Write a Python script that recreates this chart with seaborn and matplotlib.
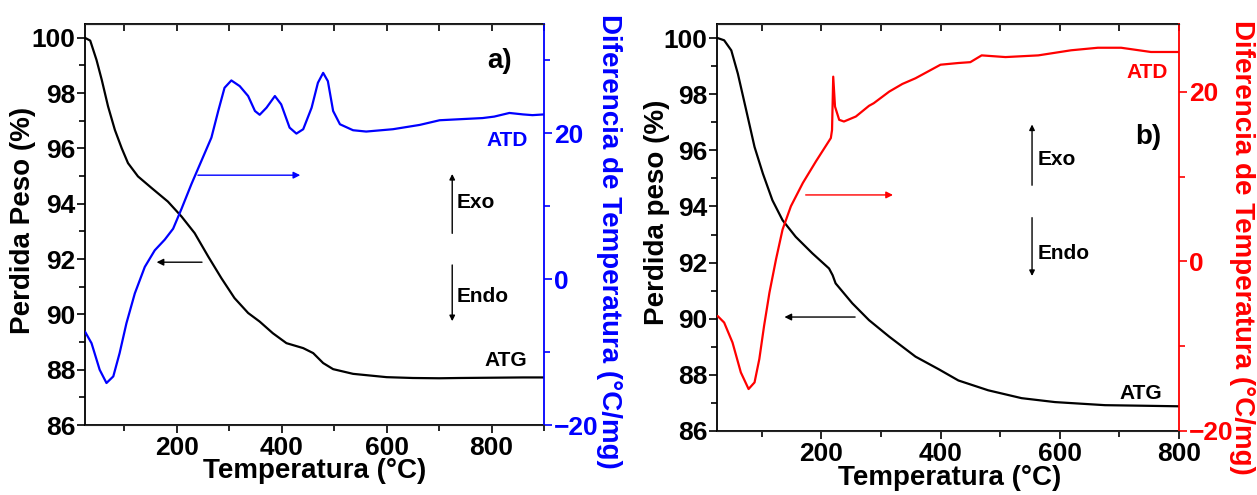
import numpy as np
import pandas as pd
import matplotlib
matplotlib.use('Agg')
import matplotlib.pyplot as plt
from matplotlib.ticker import MultipleLocator
import seaborn as sns

# --- Data: panel a) ---
temp_atg_a = [25, 35, 47, 57, 69, 82, 95, 107, 126, 152, 183, 209, 234, 260, 285, 310, 336,
              358, 383, 409, 441, 460, 479, 498, 536, 600, 650, 700, 739, 800, 860, 900]
peso_a = [100.0, 99.9, 99.2, 98.48, 97.52, 96.67, 96.01, 95.47, 94.99, 94.57, 94.08, 93.54,
          92.94, 92.09, 91.31, 90.59, 90.05, 89.74, 89.32, 88.96, 88.78, 88.6, 88.24, 88.02,
          87.85, 87.73, 87.7, 87.69, 87.7, 87.71, 87.72, 87.72]

temp_atd_a = [25, 37.5, 53, 66, 79, 91, 104, 120, 139, 158, 177, 193, 209, 228, 247, 266, 279,
              291, 304, 320, 336, 349, 358, 371, 387, 399, 415, 428, 441, 457, 469, 479, 488,
              498, 511, 536, 561, 612, 663, 701, 739, 783, 805, 834, 860, 878, 900]
atd_a = [-7.19, -8.78, -12.42, -14.24, -13.33, -10.15, -6.05, -1.95, 1.68, 3.96, 5.42, 6.92,
         9.65, 13.06, 16.24, 19.42, 23.07, 26.25, 27.26, 26.48, 25.12, 23.07, 22.55, 23.52,
         25.12, 23.98, 20.79, 19.97, 20.57, 23.52, 26.94, 28.3, 27.16, 23.07, 21.25, 20.43,
         20.25, 20.57, 21.16, 21.8, 21.94, 22.1, 22.3, 22.8, 22.6, 22.5, 22.6]

# --- Data: panel b) ---
temp_atg_b = [26, 37, 49, 60, 74, 88, 102, 118, 135, 157, 185, 213, 219, 224, 252, 280, 314,
              358, 397, 430, 480, 536, 592, 676, 740, 800]
peso_b = [100.0, 99.92, 99.56, 98.73, 97.43, 96.12, 95.17, 94.22, 93.51, 92.92, 92.33, 91.79,
          91.55, 91.26, 90.55, 89.95, 89.36, 88.65, 88.2, 87.8, 87.45, 87.17, 87.03, 86.92,
          86.9, 86.88]

temp_atd_b = [26, 37, 51, 65, 78, 88, 96, 104, 113, 124, 135, 149, 169, 191, 216, 218, 220,
              223, 230, 238, 258, 280, 288, 314, 336, 358, 400, 430, 450, 469, 509, 564, 619,
              664, 703, 753, 800]
atd_b = [-6.43, -7.21, -9.56, -13.09, -15.05, -14.27, -11.52, -7.6, -3.68, 0.24, 3.76, 6.51,
         9.25, 11.8, 14.55, 15.5, 21.79, 18.26, 16.7, 16.5, 17.09, 18.35, 18.66, 20.03, 20.93,
         21.6, 23.2, 23.4, 23.5, 24.3, 24.1, 24.3, 24.9, 25.2, 25.2, 24.7, 24.7]

sns.set_style('white')
plt.rcParams['font.family'] = ['Liberation Sans', 'DejaVu Sans']
plt.rcParams['font.weight'] = 'bold'
plt.rcParams['text.color'] = 'black'
plt.rcParams['axes.labelcolor'] = 'black'
plt.rcParams['xtick.color'] = 'black'
plt.rcParams['ytick.color'] = 'black'

fig = plt.figure(figsize=(12.57, 4.95), dpi=100)


def make_panel(rect, t_atg, w, t_atd, d, xmax, d_lim, color, ylabel, letter, spec):
    ax = fig.add_axes(rect)
    ax2 = ax.twinx()
    sns.lineplot(x=t_atg, y=w, ax=ax, color='black', lw=1.6, sort=False)
    sns.lineplot(x=t_atd, y=d, ax=ax2, color=color, lw=1.6, sort=False)

    ax.set_xlim(25, xmax)
    ax.set_ylim(86, 100.5)
    ax2.set_ylim(*d_lim)

    ax.xaxis.set_major_locator(MultipleLocator(200))
    ax.xaxis.set_minor_locator(MultipleLocator(100))
    ax.yaxis.set_major_locator(MultipleLocator(2))
    ax.yaxis.set_minor_locator(MultipleLocator(1))
    ax2.yaxis.set_major_locator(MultipleLocator(20))
    ax2.yaxis.set_minor_locator(MultipleLocator(10))

    ax.tick_params(axis='x', which='both', bottom=True, top=False, direction='out',
                   labelsize=19, colors='black')
    ax.tick_params(axis='x', which='major', length=6, width=1.2, pad=2)
    ax.tick_params(axis='x', which='minor', length=4, width=1.2)
    ax.tick_params(axis='y', which='both', left=True, right=False, direction='out',
                   labelsize=19, colors='black')
    ax.tick_params(axis='y', which='major', length=6, width=1.2, pad=1)
    ax.tick_params(axis='y', which='minor', length=4, width=1.2)
    # inward ticks on the top spine
    axt = ax.secondary_xaxis('top')
    axt.xaxis.set_major_locator(MultipleLocator(200))
    axt.xaxis.set_minor_locator(MultipleLocator(100))
    axt.tick_params(which='both', direction='in', labeltop=False, width=1.2, length=5,
                    colors='black')

    ax2.tick_params(axis='y', which='both', right=True, direction='out', colors=color,
                    labelsize=19)
    ax2.tick_params(axis='y', which='major', length=6, width=1.2, pad=1)
    ax2.tick_params(axis='y', which='minor', length=4, width=1.2)

    for s in ['left', 'bottom', 'top']:
        ax.spines[s].set_linewidth(1.3)
        ax.spines[s].set_color('black')
    ax2.spines['right'].set_color(color)
    ax2.spines['right'].set_linewidth(1.3)
    ax2.spines['left'].set_visible(False)
    ax.spines['right'].set_visible(False)
    for lab in ax.get_xticklabels() + ax.get_yticklabels() + ax2.get_yticklabels():
        lab.set_fontweight('bold')

    ax.set_xlabel('Temperatura (°C)', fontsize=20, fontweight='bold', va='center',
                  color='black')
    ax.xaxis.set_label_coords(*spec['xlab'])
    ax.set_ylabel(ylabel, fontsize=20, fontweight='bold', va='center', color='black')
    ax.yaxis.set_label_coords(*spec['ylab'])
    ax2.set_ylabel('Diferencia de Temperatura (°C/mg)', fontsize=20, fontweight='bold',
                   color=color, rotation=270, va='center')
    ax2.yaxis.set_label_coords(*spec['y2lab'])

    tr = ax.transAxes
    arr = dict(arrowstyle='-|>', color='black', lw=1.0, mutation_scale=8)
    ax.annotate('', xy=spec['atd_arrow'][1], xytext=spec['atd_arrow'][0], xycoords=tr,
                arrowprops=dict(arrowstyle='-|>', color=color, lw=1.0, mutation_scale=10))
    ax.annotate('', xy=spec['atg_arrow'][1], xytext=spec['atg_arrow'][0], xycoords=tr,
                arrowprops=dict(arrowstyle='-|>', color='black', lw=1.0, mutation_scale=10))
    ax.annotate('', xy=spec['exo'][1], xytext=spec['exo'][0], xycoords=tr, arrowprops=arr)
    ax.annotate('', xy=spec['endo'][1], xytext=spec['endo'][0], xycoords=tr, arrowprops=arr)
    ax.text(spec['exo_txt'][0], spec['exo_txt'][1], 'Exo', transform=tr, fontsize=15,
            fontweight='bold', va='center', ha='left', color='black')
    ax.text(spec['endo_txt'][0], spec['endo_txt'][1], 'Endo', transform=tr, fontsize=15,
            fontweight='bold', va='center', ha='left', color='black')
    ax.text(spec['letter'][0], spec['letter'][1], letter, transform=tr, fontsize=20,
            fontweight='bold', va='center', ha='right', color='black')
    ax.text(spec['atd_txt'][0], spec['atd_txt'][1], 'ATD', transform=tr, fontsize=15,
            fontweight='bold', va='center', ha='right', color=color)
    ax.text(spec['atg_txt'][0], spec['atg_txt'][1], 'ATG', transform=tr, fontsize=15,
            fontweight='bold', va='center', ha='right', color='black')
    return ax, ax2


spec_a = dict(atd_arrow=((0.240, 0.623), (0.475, 0.623)),
              atg_arrow=((0.261, 0.406), (0.150, 0.406)),
              exo=((0.80, 0.471), (0.80, 0.633)),
              endo=((0.80, 0.406), (0.80, 0.252)),
              exo_txt=(0.81, 0.556), endo_txt=(0.81, 0.320),
              letter=(0.93, 0.908), atd_txt=(0.965, 0.71), atg_txt=(0.963, 0.16),
              xlab=(0.501, -0.115), ylab=(-0.135, 0.511), y2lab=(1.1405, 0.458))
spec_b = dict(atd_arrow=((0.186, 0.580), (0.387, 0.580)),
              atg_arrow=((0.305, 0.280), (0.140, 0.280)),
              exo=((0.682, 0.597), (0.682, 0.760)),
              endo=((0.682, 0.531), (0.682, 0.374)),
              exo_txt=(0.695, 0.666), endo_txt=(0.695, 0.435),
              letter=(0.963, 0.722), atd_txt=(0.976, 0.882), atg_txt=(0.963, 0.093),
              xlab=(0.503, -0.115), ylab=(-0.129, 0.537), y2lab=(1.1374, 0.452))

make_panel([0.0676, 0.1414, 0.3652, 0.8101], temp_atg_a, peso_a, temp_atd_a, atd_a, 900,
           (-20, 35), '#0000FF', 'Perdida Peso (%)', 'a)', spec_a)
make_panel([0.5704, 0.1293, 0.3675, 0.8222], temp_atg_b, peso_b, temp_atd_b, atd_b, 800,
           (-20, 28), '#FF0000', 'Perdida peso (%)', 'b)', spec_b)

fig.savefig('out.png', dpi=100)
